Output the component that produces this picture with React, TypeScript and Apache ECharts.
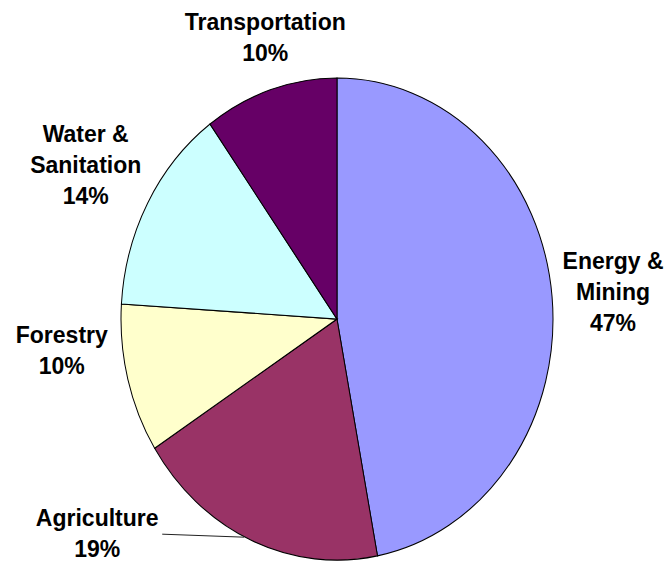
import React, { useEffect, useRef } from "react";
import * as echarts from "echarts";

// ---- data ----
const categories = ["Energy & Mining", "Agriculture", "Forestry", "Water & Sanitation", "Transportation"];
const labelTexts = ["Energy &\nMining", "Agriculture", "Forestry", "Water &\nSanitation", "Transportation"];
const shares = [47, 19, 10, 14, 10];
const colors = ["#9999FF", "#993366", "#FFFFCC", "#CCFFFF", "#660066"];

// ---- layout (elliptical pie like the original) ----
const CX = 337;
const CY = 319;
const RX = 216;
const RY = 241;
const labelOffsets: number[][] = [
  [61, -4],
  [-154, -7],
  [-66, -28],
  [-62, -38],
  [-5, -52],
];
const leaderLines = [false, true, false, false, false];

export default function App() {
  const ref = useRef<HTMLDivElement>(null);
  useEffect(() => {
    const chart = echarts.init(ref.current!, null, { renderer: "svg" });
    const total = shares.reduce((a, b) => a + b, 0);
    const starts: number[] = [];
    let acc = 0;
    shares.forEach((v) => {
      starts.push(acc);
      acc += v;
    });
    chart.setOption({
      animation: false,
      backgroundColor: "#ffffff",
      series: [
        {
          type: "custom",
          coordinateSystem: "none",
          data: shares.map((v, i) => ({ value: v, name: categories[i] })),
          renderItem: (params: any, api: any) => {
            const i = params.dataIndex;
            const v = api.value(0) as number;
            const f0 = starts[i] / total;
            const f1 = (starts[i] + v) / total;
            const fm = (f0 + f1) / 2;
            const a0 = -Math.PI / 2 + 2 * Math.PI * f0;
            const a1 = -Math.PI / 2 + 2 * Math.PI * f1;
            const mx = CX + RX * Math.sin(2 * Math.PI * fm);
            const my = CY - RY * Math.cos(2 * Math.PI * fm);
            const lx = mx + labelOffsets[i][0];
            const ly = my + labelOffsets[i][1];
            const children: any[] = [
              {
                type: "sector",
                shape: { cx: CX, cy: CY, r: RX, r0: 0, startAngle: a0, endAngle: a1, clockwise: true },
                originX: CX,
                originY: CY,
                scaleY: RY / RX,
                style: { fill: colors[i], stroke: "#000000", lineWidth: 1, strokeNoScale: true },
              },
              {
                type: "text",
                x: lx,
                y: ly,
                style: {
                  text: labelTexts[i] + "\n" + Math.round((v / total) * 100) + "%",
                  fill: "#000000",
                  fontSize: 23,
                  fontWeight: "bold",
                  fontFamily: '"Liberation Sans", Arial, sans-serif',
                  align: "center",
                  verticalAlign: "middle",
                  lineHeight: 31,
                },
              },
            ];
            if (leaderLines[i]) {
              children.push({
                type: "line",
                shape: { x1: lx + 65, y1: my - 6, x2: mx - 7, y2: my - 3 },
                style: { stroke: "#222222", lineWidth: 1 },
              });
            }
            return { type: "group", children };
          },
        },
      ],
    });
    return () => chart.dispose();
  }, []);
  return (
    <div
      ref={ref}
      style={{ position: "fixed", left: 0, top: 0, width: 667, height: 562, background: "#fff" }}
    />
  );
}
